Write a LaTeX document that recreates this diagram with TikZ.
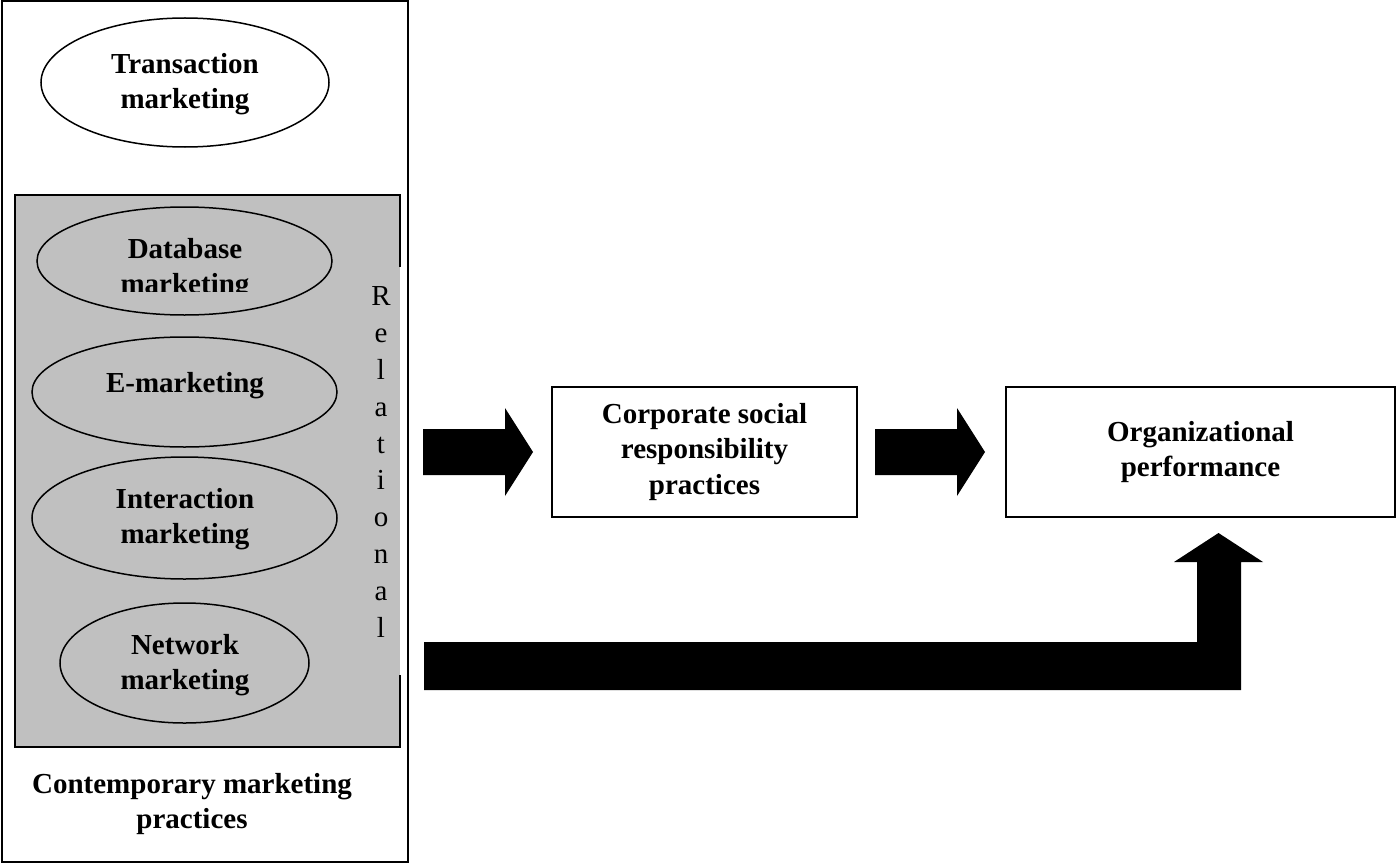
\documentclass[tikz,border=0pt]{standalone}
\usepackage{fontspec}
\setmainfont{Liberation Serif}
\usetikzlibrary{shapes.geometric}
\definecolor{boxgray}{RGB}{192,192,192}
\tikzset{
  oval/.style={draw=black, line width=1.5pt, ellipse, inner sep=0pt},
  whiteoval/.style={oval, fill=white},
  btext/.style={align=center, inner sep=0pt, font=\fontsize{29}{35.5}\selectfont\bfseries},
  rtext/.style={align=center, inner sep=0pt, font=\fontsize{29}{36.8}\selectfont},
  framebox/.style={draw=black, line width=2pt, inner sep=0pt},
  blockarrow/.style={fill=black}
}
\begin{document}
\begin{tikzpicture}[x=1pt,y=-1pt]
\useasboundingbox (0,0) rectangle (1396,864);
% outer frame
\node[framebox, minimum width=406pt, minimum height=861pt] (outer) at (205,431.5) {};
% gray relational box
\fill[boxgray] (15,195) rectangle (400,747);
\draw[line width=2pt] (400,267) -- (400,195) -- (15,195) -- (15,747) -- (400,747) -- (400,675);
% ellipses
\node[whiteoval, minimum width=288pt, minimum height=129pt] (trans) at (185,82.5) {};
\node[btext] (transt) at (185,84) {Transaction\\marketing};
\node[oval, minimum width=295pt, minimum height=108pt] (db) at (184.5,261) {};
\begin{scope}
\clip (15,195) rectangle (400,291);
\node[btext] (dbt) at (185,269) {Database\\marketing};
\end{scope}
\node[oval, minimum width=305pt, minimum height=110pt] (em) at (184.5,392) {};
\node[btext] (emt) at (185,385.5) {E-marketing};
\node[oval, minimum width=305pt, minimum height=122pt] (inter) at (184.5,518) {};
\node[btext] (intert) at (185,519) {Interaction\\marketing};
\node[oval, minimum width=249pt, minimum height=120pt] (net) at (184.5,663) {};
\node[btext] (nett) at (185,665) {Network\\marketing};
% vertical label
\node[rtext] (rel) at (381,462) {R\\e\\l\\a\\t\\i\\o\\n\\a\\l};
% caption
\node[btext] (cmp) at (192,804) {Contemporary marketing\\practices};
% right boxes
\node[framebox, minimum width=305pt, minimum height=130pt, btext] (csr) at (704.5,452) {Corporate social\\responsibility\\practices};
\node[framebox, minimum width=389pt, minimum height=130pt, btext] (org) at (1200.5,452) {Organizational\\performance};
% block arrows
\fill[blockarrow] (423,429) -- (505,429) -- (505,408) -- (533,452) -- (505,496) -- (505,475) -- (423,475) -- cycle;
\fill[blockarrow] (875,429) -- (957,429) -- (957,408) -- (985,452) -- (957,496) -- (957,475) -- (875,475) -- cycle;
\fill[blockarrow] (424,642) -- (1197,642) -- (1197,562) -- (1174,562) -- (1218.5,533) -- (1263,562) -- (1241,562) -- (1241,690) -- (424,690) -- cycle;
\end{tikzpicture}
\end{document}
